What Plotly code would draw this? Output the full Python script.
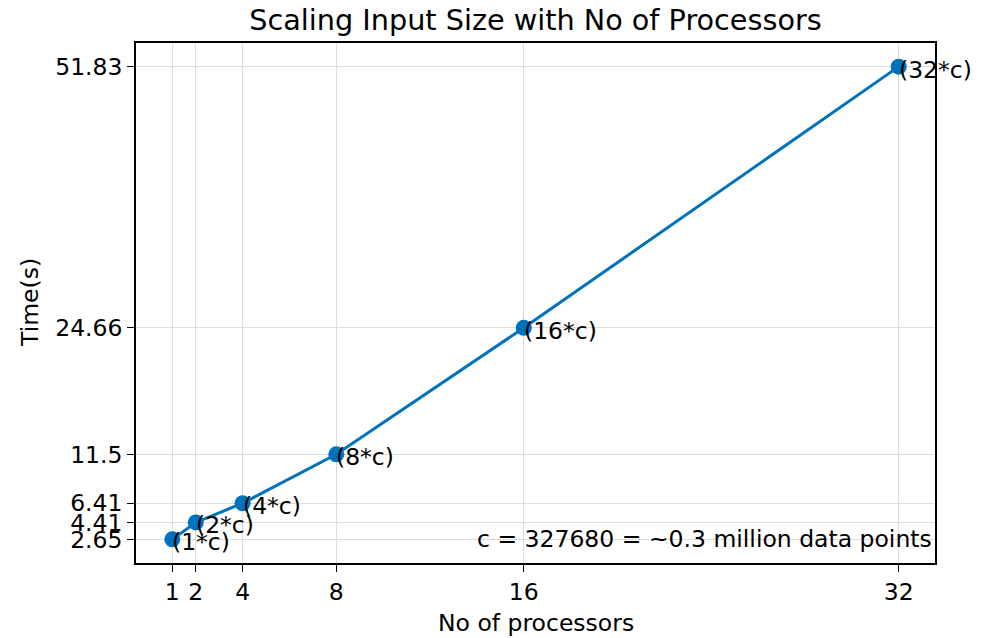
import plotly.graph_objects as go

processors = [1, 2, 4, 8, 16, 32]
times = [2.65, 4.41, 6.41, 11.5, 24.66, 51.83]
point_labels = ["(1*c)", "(2*c)", "(4*c)", "(8*c)", "(16*c)", "(32*c)"]
x_ticks = [1, 2, 4, 8, 16, 32]
y_ticks = [2.65, 4.41, 6.41, 11.5, 24.66, 51.83]
y_tick_text = ["2.65", "4.41", "6.41", "11.5", "24.66", "51.83"]

FONT = "DejaVu Sans"
BLUE = "#0072BD"
FS = 23.5

fig = go.Figure()
fig.add_trace(go.Scatter(
    x=processors, y=times, mode="lines+markers",
    line=dict(color=BLUE, width=3),
    marker=dict(color=BLUE, size=16),
    showlegend=False, hoverinfo="skip",
))

for xv, yv, t in zip(processors, times, point_labels):
    fig.add_annotation(x=xv, y=yv, text=t, showarrow=False,
                       xanchor="left", yanchor="middle", yshift=-3, xshift=-2,
                       font=dict(family=FONT, size=FS, color="black"))

fig.add_annotation(x=0.999, y=2.65, xref="paper", yref="y",
                   text="c = 327680 = ~0.3 million data points",
                   showarrow=False, xanchor="right", yanchor="middle",
                   font=dict(family=FONT, size=FS, color="black"))

# axis titles
fig.add_annotation(x=0.5, y=0, xref="paper", yref="paper", yshift=-60,
                   text="No of processors", showarrow=False,
                   xanchor="center", yanchor="middle",
                   font=dict(family=FONT, size=FS, color="black"))
fig.add_annotation(x=0, y=0.5, xref="paper", yref="paper", xshift=-106,
                   text="Time(s)", showarrow=False, textangle=-90,
                   xanchor="center", yanchor="middle",
                   font=dict(family=FONT, size=FS, color="black"))

axis_common = dict(
    showline=True, linecolor="black", linewidth=1.6, mirror=True,
    ticks="outside", ticklen=7, tickwidth=1.4, tickcolor="black",
    showgrid=True, gridcolor="#dcdcdc", gridwidth=1.4,
    zeroline=False, automargin=False,
    tickfont=dict(family=FONT, size=FS, color="black"),
)

fig.update_xaxes(range=[-0.55, 33.55], tickvals=x_ticks,
                 ticktext=[str(v) for v in x_ticks], **axis_common)
fig.update_yaxes(range=[0.191, 54.289], tickvals=y_ticks, ticktext=y_tick_text,
                 **axis_common)

fig.update_layout(
    width=984, height=638,
    margin=dict(l=136, r=49, t=43, b=75, autoexpand=False),
    paper_bgcolor="white", plot_bgcolor="white",
    title=dict(text="Scaling Input Size with No of Processors",
               x=0.5, xref="paper", xanchor="center",
               y=1 - 20 / 638, yref="container", yanchor="middle",
               font=dict(family=FONT, size=28.7, color="black")),
)

fig.write_html("out.html",
               config={"displayModeBar": False},
               post_script="document.body.style.margin='0';document.body.style.padding='0';")
